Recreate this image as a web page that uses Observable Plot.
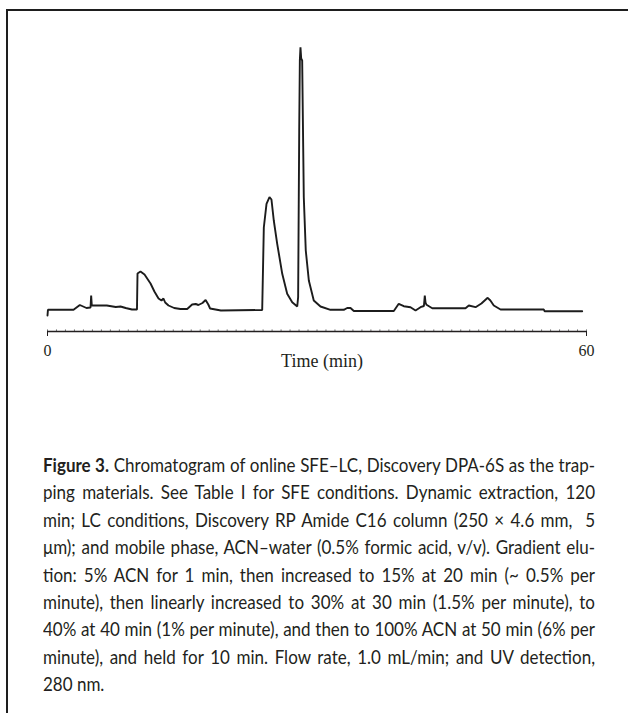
<!DOCTYPE html>
<html>
<head>
<meta charset="utf-8">
<script src="https://cdn.jsdelivr.net/npm/d3@7"></script>
<script src="https://cdn.jsdelivr.net/npm/@observablehq/plot@0.6"></script>
<style>
  html, body { margin: 0; padding: 0; background: #fff; }
  #page { position: relative; width: 628px; height: 713px; overflow: hidden; background: #fff; }
  #frame { position: absolute; left: 6px; top: 9px; width: 800px; height: 900px;
           border-top: 2px solid #1e1e1e; border-left: 2px solid #1e1e1e; box-sizing: border-box; }
  #chart { position: absolute; left: 0; top: 0; }
  #caption { position: absolute; left: 43px; top: 451px; transform-origin: 0 0;
             font-family: Lato, "Open Sans", sans-serif; font-size: 19px; line-height: 27.4px; color: #231f20; }
  #caption .ln { white-space: nowrap; text-align: justify; text-align-last: justify; }
  #caption .ln.last { text-align-last: left; }
  #caption b { font-weight: 700; }
</style>
</head>
<body>
<div id="page">
  <div id="frame"></div>
  <div id="chart"></div>
  <div id="caption"></div>
</div>
<script>
// Retention time (min) and detector signal (arbitrary units)
const times = [0, 0.05, 2.9, 3.6, 4.34, 4.79, 4.86, 4.93, 6.6, 7.6, 8.13, 8.7, 9.4,
  9.96, 10.02, 10.35, 10.8, 11.47, 11.9, 12.36, 12.69, 12.91, 13.1, 13.47, 14.1, 14.8, 15.55,
  16.1, 16.5, 16.8, 17.25, 17.6, 17.9, 18.1, 19.3,
  23.9, 24.08, 24.38, 24.71, 24.93, 25.19, 25.57, 26.13, 26.68, 27.24, 27.8,
  27.9, 28.02, 28.09, 28.16, 28.24, 28.35, 28.53, 28.75, 29.09, 29.64, 30.39, 31.5,
  32.98, 33.36, 33.73, 34.1, 38.55, 39.1, 39.66, 40.41, 40.97, 41.52, 41.9, 42.0, 42.08, 42.19, 42.83,
  46.53, 46.9, 47.65, 48.3, 49.0, 49.3, 49.68, 50.43, 55.25, 55.33, 59.52];
const signal = [16, 21.7, 21.7, 26.5, 23.5, 24, 36, 26, 26, 24.5, 25, 23.5, 22,
  22, 58, 60, 57, 48, 40, 33, 31, 33, 29, 26, 23.5, 22.5, 22.5,
  27, 27.5, 26.5, 28.5, 31.5, 27, 23, 21,
  21.5, 104, 127.7, 134.3, 132, 111, 87.7, 57.7, 37.7, 29.3, 25,
  34.3, 201, 271, 284.3, 273, 271, 134.3, 81, 51, 31, 25, 21.7,
  21.7, 23.5, 23.5, 20.5, 20.5, 27.7, 25.3, 24.3, 21, 24.3, 25.5, 36, 29, 26.7, 23.3,
  23.3, 26, 24.3, 28, 33.7, 31, 26, 22, 22, 20.3, 20.3];
const tickValues = [0, 60];
const minorTicks = d3.range(0, 60.01, 1);
const axisLabel = "Time (min)";

const captionLines = [
  "<b>Figure 3.</b> Chromatogram of online SFE–LC, Discovery DPA-6S as the trap-",
  "ping materials. See Table I for SFE conditions. Dynamic extraction, 120",
  "min; LC conditions, Discovery RP Amide C16 column (250 × 4.6 mm,&nbsp; 5",
  "μm); and mobile phase, ACN–water (0.5% formic acid, v/v). Gradient elu-",
  "tion: 5% ACN for 1 min, then increased to 15% at 20 min (~ 0.5% per",
  "minute), then linearly increased to 30% at 30 min (1.5% per minute), to",
  "40% at 40 min (1% per minute), and then to 100% ACN at 50 min (6% per",
  "minute), and held for 10 min. Flow rate, 1.0 mL/min; and UV detection,",
  "280 nm."
];

const data = times.map((t, i) => ({t, v: signal[i]}));

const plot = Plot.plot({
  width: 628,
  height: 380,
  marginLeft: 47,
  marginRight: 42,
  marginTop: 46,
  marginBottom: 49,
  style: {background: "transparent", fontFamily: "'Liberation Serif', serif", color: "#231f20"},
  x: {domain: [0, 60]},
  y: {domain: [0, 285], axis: null},
  marks: [
    Plot.ruleX(minorTicks, {x: d => d, y1: 0, y2: 1.6, stroke: "#777", strokeWidth: 1}),
    Plot.ruleY([0], {stroke: "#231f20", strokeWidth: 1.3}),
    Plot.axisX({ticks: tickValues, tickSize: 5, tickPadding: 8, fontSize: 16,
      label: axisLabel, labelAnchor: "center", labelArrow: "none", labelOffset: 35,
      tickFormat: d => String(d)}),
    Plot.line(data, {x: "t", y: "v", stroke: "#1c1c1c", strokeWidth: 1.9, strokeLinejoin: "miter"})
  ]
});
plot.querySelectorAll("text").forEach(t => {
  if (t.textContent === axisLabel) { t.setAttribute("font-size", "18"); t.setAttribute("dx", "5"); }
});
document.getElementById("chart").appendChild(plot);

// caption with explicit line breaks, justified to the column width
const cap = document.getElementById("caption");
const target = 552;
captionLines.forEach((s, i) => {
  const d = document.createElement("div");
  d.className = "ln" + (i === captionLines.length - 1 ? " last" : "");
  d.innerHTML = s;
  cap.appendChild(d);
});
let maxW = 0;
cap.querySelectorAll(".ln").forEach(d => {
  const sp = document.createElement("span");
  sp.innerHTML = d.innerHTML;
  sp.style.whiteSpace = "nowrap";
  d.innerHTML = "";
  d.appendChild(sp);
  maxW = Math.max(maxW, sp.getBoundingClientRect().width);
  d.innerHTML = sp.innerHTML;
});
const s = Math.min(1, target / (maxW + 4));
cap.style.width = (target / s) + "px";
cap.style.transform = `scaleX(${s})`;
</script>
</body>
</html>
